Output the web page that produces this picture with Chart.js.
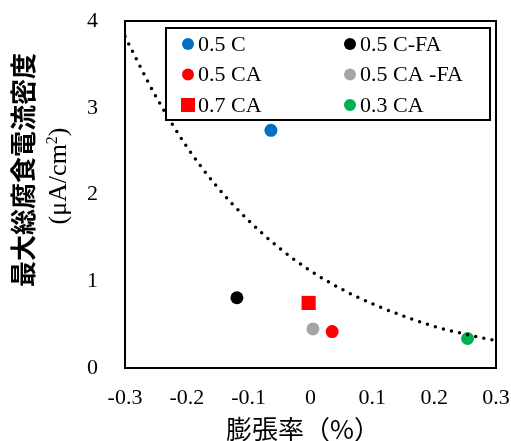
<!DOCTYPE html>
<html>
<head>
<meta charset="utf-8">
<script src="https://cdn.jsdelivr.net/npm/chart.js@4/dist/chart.umd.min.js"></script>
<style>
  html, body { margin: 0; padding: 0; background: #fff; }
  #wrap { width: 511px; height: 441px; }
</style>
</head>
<body>
<div id="wrap"><canvas id="chart" width="511" height="441"></canvas></div>
<script>
// Axis ticks
const xTicks = [-0.3, -0.2, -0.1, 0, 0.1, 0.2, 0.3];
const yTicks = [0, 1, 2, 3, 4];

// Measured specimens: expansion (%) vs. max total corrosion current density
const seriesNames = ['0.5 C', '0.5 C-FA', '0.5 CA', '0.5 CA -FA', '0.7 CA', '0.3 CA'];
const expansion  = [-0.064, -0.119, 0.035, 0.004, -0.003, 0.254];
const maxCurrent = [2.74, 0.81, 0.42, 0.45, 0.75, 0.34];

// Trend curve (dotted)
const trendX = [-0.3, -0.25, -0.2, -0.15, -0.1, -0.05, 0, 0.05, 0.1, 0.15, 0.2, 0.25, 0.3];
const trendY = [3.82, 3.13, 2.55, 2.08, 1.70, 1.38, 1.12, 0.91, 0.74, 0.60, 0.48, 0.39, 0.315];

const seriesColors = ['#0070C0', '#000000', '#FF0000', '#A5A5A5', '#FF0000', '#00B050'];
const seriesShapes = ['circle', 'circle', 'circle', 'circle', 'rect', 'circle'];

const serif = '"Times New Roman", "Liberation Serif", serif';
const cjk = '"Noto Sans CJK JP", "Noto Sans CJK SC", sans-serif';

const datasets = [{
    label: 'trend',
    data: trendX.map((x, i) => ({ x: x, y: trendY[i] })),
    showLine: true,
    pointRadius: 0,
    borderColor: '#000',
    borderWidth: 3.5,
    borderCapStyle: 'round',
    borderDash: [0, 8.3],
    cubicInterpolationMode: 'monotone',
    order: 0
}];
seriesNames.forEach((name, i) => {
    datasets.push({
        label: name,
        data: [{ x: expansion[i], y: maxCurrent[i] }],
        pointStyle: seriesShapes[i],
        pointRadius: seriesShapes[i] === 'rect' ? 10 : 6.5,
        pointBackgroundColor: seriesColors[i],
        pointBorderWidth: 0,
        order: 1
    });
});

// Frame, in-plot legend and axis titles
const decorations = {
    id: 'decorations',
    afterDatasetsDraw(chart) {
        const ctx = chart.ctx;
        const a = chart.chartArea;
        ctx.save();
        ctx.strokeStyle = '#000';
        ctx.lineWidth = 2;
        ctx.strokeRect(a.left, a.top, a.right - a.left, a.bottom - a.top);

        // legend box
        ctx.fillStyle = '#fff';
        ctx.fillRect(166, 28, 324, 92);
        ctx.strokeRect(166, 28, 324, 92);
        ctx.font = '22px ' + serif;
        ctx.textBaseline = 'middle';
        ctx.textAlign = 'left';
        const order = [0, 2, 4, 1, 3, 5];
        order.forEach((idx, k) => {
            const col = Math.floor(k / 3), row = k % 3;
            const mx = col === 0 ? 188 : 350;
            const my = 44 + row * 30.5;
            ctx.fillStyle = seriesColors[idx];
            if (seriesShapes[idx] === 'rect') {
                ctx.fillRect(mx - 7, my - 7, 14, 14);
            } else {
                ctx.beginPath();
                ctx.arc(mx, my, 6, 0, Math.PI * 2);
                ctx.fill();
            }
            ctx.fillStyle = '#000';
            ctx.fillText(seriesNames[idx], mx + 10, my + 1);
        });

        // x title
        ctx.font = '26px ' + cjk;
        ctx.textAlign = 'center';
        ctx.fillText('膨張率（%）', 303, 429);

        // y title, two lines rotated
        ctx.save();
        ctx.translate(23, 170);
        ctx.rotate(-Math.PI / 2);
        ctx.font = 'bold 26px ' + cjk;
        ctx.fillText('最大総腐食電流密度', 0, 0);
        ctx.restore();

        ctx.save();
        ctx.translate(59, 176);
        ctx.rotate(-Math.PI / 2);
        const main = '26px ' + serif, sup = '16px ' + serif;
        const parts = [['(μA/cm', main, 0], ['2', sup, -6], [')', main, 0]];
        let total = 0;
        parts.forEach(p => { ctx.font = p[1]; total += ctx.measureText(p[0]).width; });
        let cx = -total / 2;
        ctx.textAlign = 'left';
        parts.forEach(p => {
            ctx.font = p[1];
            ctx.fillText(p[0], cx, p[2]);
            cx += ctx.measureText(p[0]).width;
        });
        ctx.restore();
        ctx.restore();
    }
};

new Chart(document.getElementById('chart').getContext('2d'), {
    type: 'scatter',
    data: { datasets: datasets },
    options: {
        responsive: false,
        animation: false,
        events: [],
        layout: { padding: { top: 21, right: 15, left: 0, bottom: 0 } },
        plugins: { legend: { display: false }, tooltip: { enabled: false } },
        scales: {
            x: {
                min: -0.3, max: 0.3,
                grid: { display: false, drawTicks: false },
                border: { display: false },
                afterBuildTicks: s => { s.ticks = xTicks.map(v => ({ value: v })); },
                ticks: {
                    padding: 17,
                    color: '#000',
                    maxRotation: 0,
                    autoSkip: false,
                    font: { family: serif, size: 22 },
                    callback: v => (v === 0 ? '0' : String(v))
                },
                afterFit: s => { s.height = 73; s.paddingLeft = 0; s.paddingRight = 0; }
            },
            y: {
                min: 0, max: 4,
                grid: { display: false, drawTicks: false },
                border: { display: false },
                afterBuildTicks: s => { s.ticks = yTicks.map(v => ({ value: v })); },
                ticks: {
                    padding: 27,
                    color: '#000',
                    font: { family: serif, size: 22 }
                },
                afterFit: s => { s.width = 125; s.paddingTop = 0; s.paddingBottom = 0; }
            }
        }
    },
    plugins: [decorations]
});
</script>
</body>
</html>
